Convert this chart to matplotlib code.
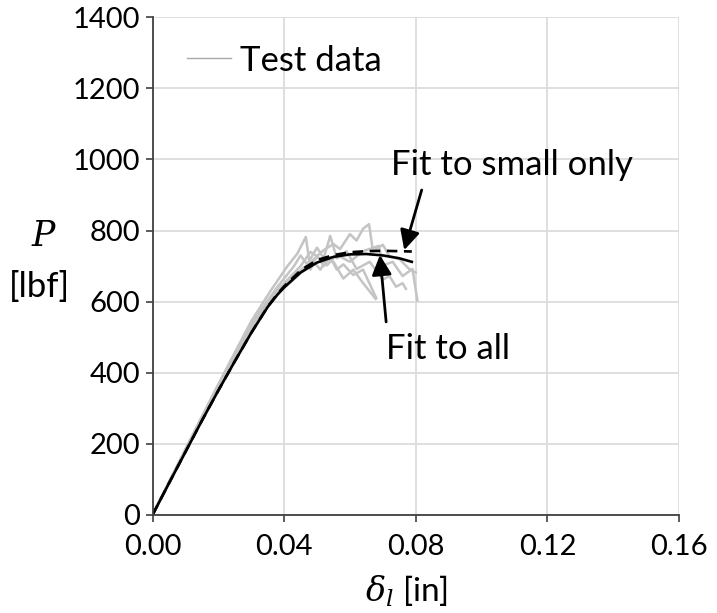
import matplotlib
matplotlib.use("Agg")
import matplotlib.pyplot as plt
from matplotlib.lines import Line2D

plt.rcParams['font.family'] = ['Lato', 'DejaVu Sans']
plt.rcParams['mathtext.fontset'] = 'dejavuserif'

# Test data traces (deflection [in], load [lbf])
t1_x = [0, 0.010, 0.020, 0.030, 0.036, 0.041, 0.044, 0.0466, 0.048, 0.050, 0.052, 0.054, 0.056, 0.058, 0.061, 0.064, 0.066, 0.068]
t1_y = [0, 185, 368, 545, 632, 700, 735, 782, 690, 730, 700, 725, 690, 705, 675, 690, 650, 610]
t2_x = [0, 0.010, 0.020, 0.030, 0.038, 0.043, 0.045, 0.047, 0.050, 0.052, 0.054, 0.056, 0.059, 0.062, 0.066, 0.070, 0.072, 0.074, 0.076, 0.077]
t2_y = [0, 183, 364, 538, 642, 700, 730, 705, 752, 722, 785, 722, 742, 692, 712, 662, 672, 642, 652, 636]
t3_x = [0, 0.010, 0.020, 0.030, 0.038, 0.045, 0.048, 0.050, 0.052, 0.055, 0.057, 0.060, 0.062, 0.064, 0.0658, 0.067, 0.070, 0.072, 0.075, 0.078, 0.080]
t3_y = [0, 181, 360, 532, 632, 700, 740, 728, 745, 762, 748, 790, 772, 805, 818, 742, 760, 728, 720, 692, 682]
t4_x = [0, 0.010, 0.020, 0.030, 0.038, 0.045, 0.050, 0.053, 0.056, 0.060, 0.064, 0.0688, 0.070, 0.073, 0.076, 0.079, 0.0805]
t4_y = [0, 182, 362, 530, 628, 688, 727, 702, 732, 712, 742, 757, 702, 712, 672, 692, 603]
t5_x = [0, 0.010, 0.020, 0.030, 0.038, 0.045, 0.049, 0.051, 0.053, 0.055, 0.058, 0.061, 0.064, 0.0678]
t5_y = [0, 180, 358, 526, 622, 680, 712, 690, 720, 712, 665, 690, 652, 608]
tests = [(t1_x, t1_y), (t2_x, t2_y), (t3_x, t3_y), (t4_x, t4_y), (t5_x, t5_y)]

# Fit curves
fit_all_x = [0, 0.005, 0.010, 0.015, 0.020, 0.025, 0.030, 0.035, 0.038, 0.040, 0.045, 0.050, 0.055, 0.060, 0.065, 0.070, 0.075, 0.0788]
fit_all_y = [0, 89, 177, 265, 350, 432, 512, 585, 620, 640, 682, 710, 726, 733, 734, 730, 722, 712]
fit_small_x = [0, 0.005, 0.010, 0.015, 0.020, 0.025, 0.030, 0.035, 0.038, 0.040, 0.045, 0.050, 0.055, 0.060, 0.065, 0.070, 0.075, 0.0788]
fit_small_y = [0, 89, 177, 265, 350, 432, 512, 586, 622, 643, 688, 717, 731, 739, 742, 743, 742, 741]

x_ticks = [0.00, 0.04, 0.08, 0.12, 0.16]
x_tick_labels = ['0.00', '0.04', '0.08', '0.12', '0.16']
y_ticks = [0, 200, 400, 600, 800, 1000, 1200, 1400]

fig = plt.figure(figsize=(7.17, 6.13), dpi=100)
ax = fig.add_axes([0.2127, 0.160, 0.947 - 0.2127, 0.9718 - 0.160])

for tx, ty in tests:
    ax.plot(tx, ty, color='#c4c4c4', lw=1.8, zorder=2)

ax.plot(fit_all_x, fit_all_y, color='black', lw=1.9, zorder=4)
ax.plot(fit_small_x, fit_small_y, color='black', lw=1.9, ls=(0, (4, 2.5)), zorder=4)

ax.set_xlim(0, 0.16)
ax.set_ylim(0, 1400)
ax.set_xticks(x_ticks)
ax.set_xticklabels(x_tick_labels)
ax.set_yticks(y_ticks)
ax.grid(True, color='#dcdcdc', lw=1.3, zorder=0)
ax.set_axisbelow(True)
for s in ['top', 'right']:
    ax.spines[s].set_visible(False)
for s in ['left', 'bottom']:
    ax.spines[s].set_color('#404040')
    ax.spines[s].set_linewidth(1.3)
    ax.spines[s].set_zorder(5)
ax.tick_params(axis='both', labelsize=21, color='#404040', length=5, width=1.2)
ax.tick_params(axis='x', pad=9)
ax.tick_params(axis='y', pad=4)

# legend
leg_handle = Line2D([], [], color='#a8a8a8', lw=1.0)
ax.legend([leg_handle], ['Test data'], loc='center left', bbox_to_anchor=(0.065, 0.913),
          frameon=False, fontsize=25, handlelength=1.27, handletextpad=0.26, borderpad=0,
          borderaxespad=0)

# annotations
arrow_style = dict(arrowstyle='-|>', color='black', lw=2.0, mutation_scale=30,
                   shrinkA=0, shrinkB=0)
ax.text(0.1091, 985, 'Fit to small only', fontsize=25, ha='center', va='center')
ax.annotate('', xy=(0.0765, 745), xytext=(0.0818, 914), arrowprops=arrow_style)
ax.annotate('', xy=(0.0691, 731), xytext=(0.0710, 543), arrowprops=arrow_style)
ax.text(0.0898, 467, 'Fit to all', fontsize=25, ha='center', va='center')

# axis labels
fig.text(0.567, 0.018, r'$\delta_l$ [in]', fontsize=24, ha='center', va='baseline')
fig.text(0.062, 0.615, r'$P$', fontsize=25, ha='center', va='center')
fig.text(0.055, 0.532, '[lbf]', fontsize=25, ha='center', va='center')

fig.savefig('out.png', dpi=100)
